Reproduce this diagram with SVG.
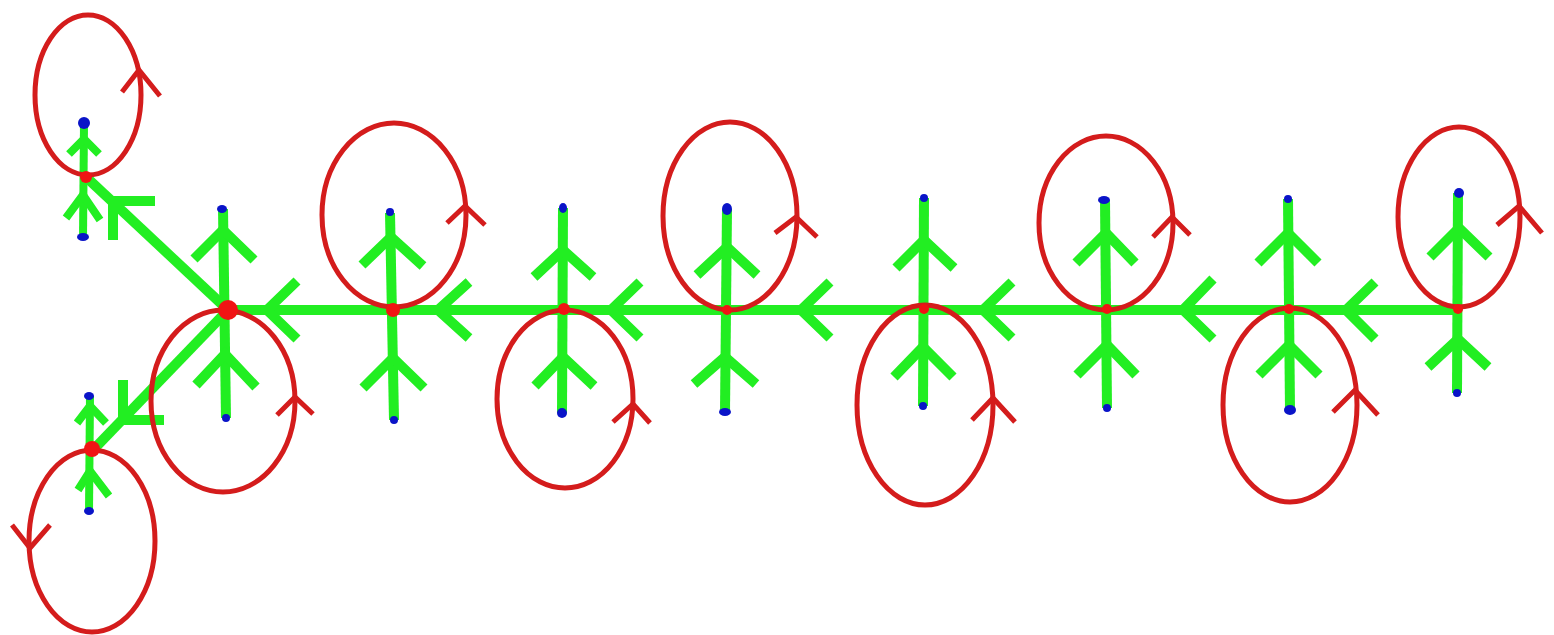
<svg xmlns="http://www.w3.org/2000/svg" width="1554" height="635" viewBox="0 0 1554 635">
<style>
.g{stroke:#22ee22;fill:none;stroke-linecap:butt;stroke-linejoin:miter}
.main{stroke-width:10}
.ch{stroke-width:10}
.sm{stroke-width:8}
.loop{stroke:#d41c1c;fill:none;stroke-width:5}
.la{stroke:#d41c1c;fill:none;stroke-width:5;stroke-linejoin:miter}
.rd{fill:#f01414}
.bd{fill:#0a14c8}
</style>
<rect width="1554" height="635" fill="#fff"/>
<g id="connectors">
  <!-- main horizontal path -->
  <path class="g main" d="M228,310 L1459,310"/>
  <path class="g main" d="M228,310 L86,177"/>
  <path class="g main" d="M228,310 L93,450"/>
  <!-- verticals -->
  <path class="g main" d="M223,209 L226,418"/>
  <path class="g main" d="M390,213 L394,420"/>
  <path class="g main" d="M563,208 L562,413"/>
  <path class="g main" d="M727,209 L725,412"/>
  <path class="g main" d="M924,198 L923,406"/>
  <path class="g main" d="M1105,200 L1107,408"/>
  <path class="g main" d="M1288,199 L1290,410"/>
  <path class="g main" d="M1458,193 L1457,393"/>
  <path class="g sm" d="M84,124 L83,237"/>
  <path class="g sm" d="M90,396 L89,512"/>
  <!-- vertical chevrons -->
  <path class="g ch" d="M194,259 L223,230 L254,260 M196,385 L225,354 L256,387"/>
  <path class="g ch" d="M362,265 L391,237 L423,266 M363,388 L393,358 L424,388"/>
  <path class="g ch" d="M534,277 L563,250 L593,277 M535,386 L563,357 L594,386"/>
  <path class="g ch" d="M697,275 L727,247 L757,275 M694,384 L725,357 L756,384"/>
  <path class="g ch" d="M896,268 L924,240 L954,268 M894,377 L923,347 L953,377"/>
  <path class="g ch" d="M1076,263 L1106,233 L1135,263 M1077,375 L1107,345 L1136,375"/>
  <path class="g ch" d="M1258,263 L1288,233 L1318,263 M1259,375 L1289,345 L1319,375"/>
  <path class="g ch" d="M1430,257 L1459,228 L1489,257 M1428,367 L1458,339 L1488,367"/>
  <path class="g sm" d="M69,154 L84,139 L99,154 M66,218 L83,195 L100,220"/>
  <path class="g sm" d="M77,423 L90,406 L106,423 M78,490 L90,471 L109,496"/>
  <!-- horizontal chevrons (pointing left) -->
  <path class="g ch" d="M297,281 L267,310 L297,339"/>
  <path class="g ch" d="M469,282 L438,310 L469,338"/>
  <path class="g ch" d="M640,282 L611,310 L640,338"/>
  <path class="g ch" d="M830,282 L801,310 L830,338"/>
  <path class="g ch" d="M1012,282 L983,310 L1012,338"/>
  <path class="g ch" d="M1213,279 L1183,310 L1213,339"/>
  <path class="g ch" d="M1375,282 L1346,310 L1375,339"/>
  <!-- diagonal chevrons -->
  <path class="g ch" d="M155,201 L113,201 L113,240"/>
  <path class="g ch" d="M123,380 L123,420 L164,420"/>
</g>
<g id="loop-tl">
  <ellipse class="loop" cx="88" cy="95" rx="53" ry="80"/>
  <path class="la" d="M122,92 L139,70 L160,96"/>
</g>
<g id="loop-bl">
  <ellipse class="loop" cx="92" cy="541" rx="63" ry="91"/>
  <path class="la" d="M12,525 L30,548 L50,525"/>
</g>
<g id="loop-0">
  <ellipse class="loop" cx="223" cy="401" rx="72" ry="91"/>
  <path class="la" d="M277,415 L295,397 L313,414"/>
</g>
<g id="loop-1">
  <ellipse class="loop" cx="394" cy="215" rx="72" ry="92"/>
  <path class="la" d="M447,223 L465,206 L485,225"/>
</g>
<g id="loop-2">
  <ellipse class="loop" cx="565" cy="399" rx="68" ry="89"/>
  <path class="la" d="M613,422 L633,404 L650,423"/>
</g>
<g id="loop-3">
  <ellipse class="loop" cx="730" cy="216" rx="67" ry="94"/>
  <path class="la" d="M775,233 L796,217 L817,237"/>
</g>
<g id="loop-4">
  <ellipse class="loop" cx="925" cy="405" rx="68" ry="100"/>
  <path class="la" d="M972,420 L993,398 L1015,422"/>
</g>
<g id="loop-5">
  <ellipse class="loop" cx="1106" cy="223" rx="67" ry="87"/>
  <path class="la" d="M1153,237 L1172,217 L1190,235"/>
</g>
<g id="loop-6">
  <ellipse class="loop" cx="1290" cy="405" rx="67" ry="97"/>
  <path class="la" d="M1333,412 L1355,390 L1378,415"/>
</g>
<g id="loop-7">
  <ellipse class="loop" cx="1459" cy="217" rx="61" ry="90"/>
  <path class="la" d="M1497,225 L1519,206 L1542,233"/>
</g>
<g id="node-j0"><circle class="rd" cx="228" cy="310" r="10"/></g>
<g id="node-j1"><circle class="rd" cx="393" cy="310" r="7"/></g>
<g id="node-j2"><circle class="rd" cx="564" cy="309" r="6"/></g>
<g id="node-j3"><circle class="rd" cx="727" cy="310" r="5"/></g>
<g id="node-j4"><circle class="rd" cx="924" cy="309" r="5"/></g>
<g id="node-j5"><circle class="rd" cx="1107" cy="309" r="5"/></g>
<g id="node-j6"><circle class="rd" cx="1289" cy="309" r="5"/></g>
<g id="node-j7"><circle class="rd" cx="1458" cy="309" r="5"/></g>
<g id="node-jtl"><circle class="rd" cx="86" cy="177" r="6"/></g>
<g id="node-jbl"><circle class="rd" cx="92" cy="449" r="8"/></g>
<g id="leaves">
  <g id="leaf-tl-a"><ellipse class="bd" cx="84" cy="123" rx="6" ry="6"/></g>
  <g id="leaf-tl-b"><ellipse class="bd" cx="83" cy="237" rx="6" ry="4"/></g>
  <g id="leaf-bl-a"><ellipse class="bd" cx="89" cy="396" rx="5" ry="4"/></g>
  <g id="leaf-bl-b"><ellipse class="bd" cx="89" cy="511" rx="5" ry="4"/></g>
  <g id="leaf-0a"><ellipse class="bd" cx="222" cy="209" rx="5" ry="4"/></g>
  <g id="leaf-0b"><ellipse class="bd" cx="226" cy="418" rx="4" ry="4"/></g>
  <g id="leaf-1a"><ellipse class="bd" cx="390" cy="212" rx="4" ry="4"/></g>
  <g id="leaf-1b"><ellipse class="bd" cx="394" cy="420" rx="4" ry="4"/></g>
  <g id="leaf-2a"><ellipse class="bd" cx="563" cy="208" rx="4" ry="5"/></g>
  <g id="leaf-2b"><ellipse class="bd" cx="562" cy="413" rx="5" ry="5"/></g>
  <g id="leaf-3a"><ellipse class="bd" cx="727" cy="209" rx="5" ry="6"/></g>
  <g id="leaf-3b"><ellipse class="bd" cx="725" cy="412" rx="6" ry="4"/></g>
  <g id="leaf-4a"><ellipse class="bd" cx="924" cy="198" rx="4" ry="4"/></g>
  <g id="leaf-4b"><ellipse class="bd" cx="923" cy="406" rx="4" ry="4"/></g>
  <g id="leaf-5a"><ellipse class="bd" cx="1104" cy="200" rx="6" ry="4"/></g>
  <g id="leaf-5b"><ellipse class="bd" cx="1107" cy="408" rx="4" ry="4"/></g>
  <g id="leaf-6a"><ellipse class="bd" cx="1288" cy="199" rx="4" ry="4"/></g>
  <g id="leaf-6b"><ellipse class="bd" cx="1290" cy="410" rx="6" ry="5"/></g>
  <g id="leaf-7a"><ellipse class="bd" cx="1459" cy="193" rx="5" ry="5"/></g>
  <g id="leaf-7b"><ellipse class="bd" cx="1457" cy="393" rx="4" ry="4"/></g>
</g>
</svg>
